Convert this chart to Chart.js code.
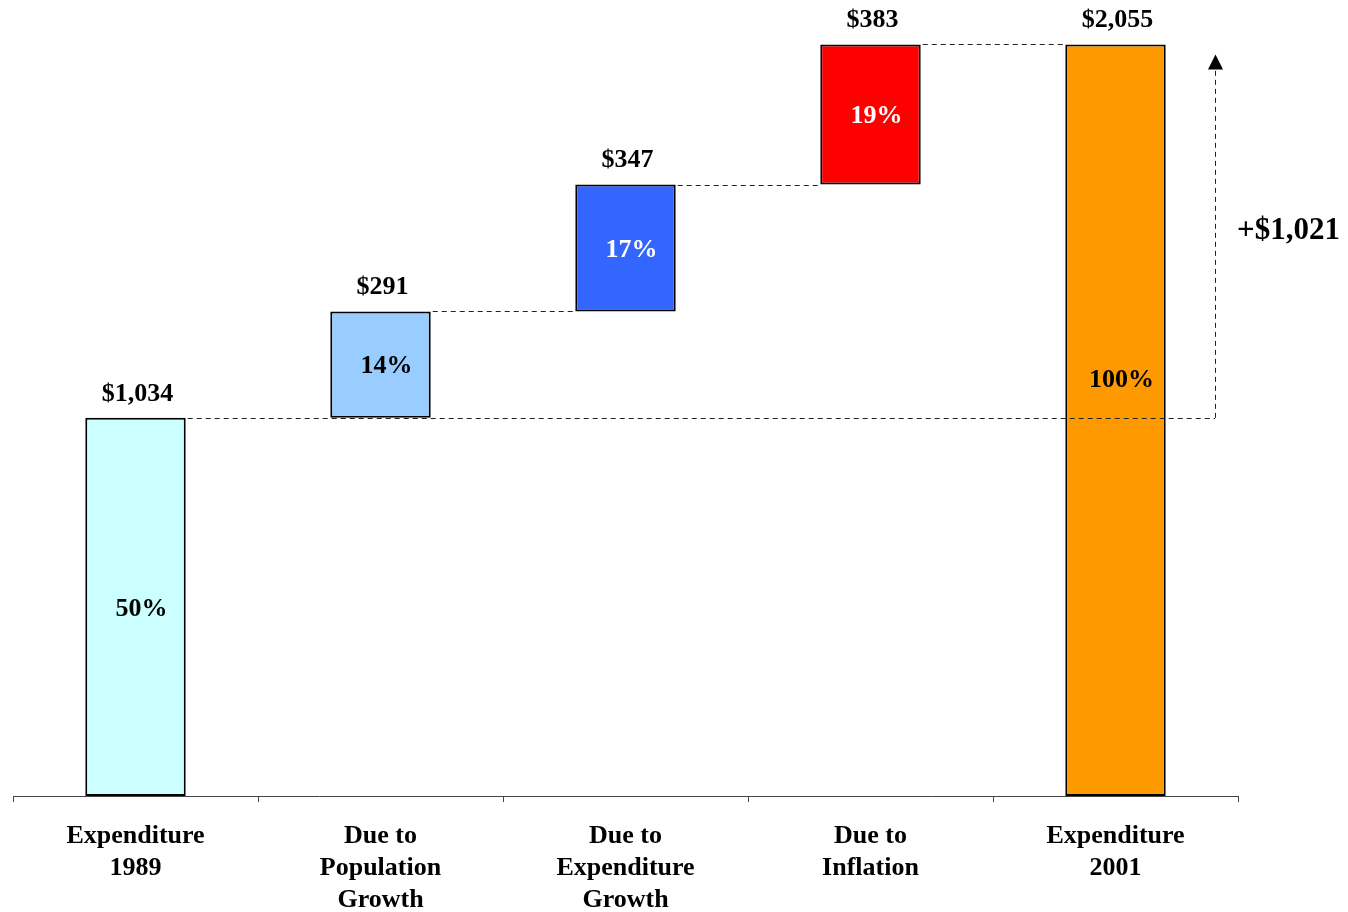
<!DOCTYPE html>
<html>
<head>
<meta charset="utf-8">
<title>Expenditure 1989 - 2001</title>
<script src="https://cdn.jsdelivr.net/npm/chart.js@4/dist/chart.umd.min.js"></script>
<style>
    html, body { margin: 0; padding: 0; background: #fff; }
    .chart-box { width: 1348px; height: 912px; }
</style>
</head>
<body>
<div class="chart-box"><canvas id="waterfall"></canvas></div>
<script>
// Waterfall data
const categories = [
    ['Expenditure', '1989'],
    ['Due to', 'Population', 'Growth'],
    ['Due to', 'Expenditure', 'Growth'],
    ['Due to', 'Inflation'],
    ['Expenditure', '2001']
];
const amounts = [1034, 291, 347, 383, 2055];
const barColors = ['#CCFFFF', '#99CCFF', '#3366FF', '#FF0000', '#FF9900'];
const pctColors = ['#000000', '#000000', '#FFFFFF', '#FFFFFF', '#000000'];

const FONT = '"Liberation Serif", "Times New Roman", serif';
const lastIdx = amounts.length - 1;
const total = amounts[lastIdx];

// first and last bars stand on zero, the steps float on the running sum
const ranges = [];
let running = 0;
amounts.forEach((v, i) => {
    if (i === 0 || i === lastIdx) {
        ranges.push([0, v]);
        running = v;
    } else {
        ranges.push([running, running + v]);
        running += v;
    }
});

const money = v => '$' + v.toLocaleString('en-US');

// dashed connectors, growth arrow and all the text labels
const waterfallExtras = {
    id: 'waterfallExtras',
    afterDatasetsDraw(chart) {
        const ctx = chart.ctx;
        const bars = chart.getDatasetMeta(0).data;
        const y = chart.scales.y;
        const area = chart.chartArea;
        const arrowX = area.right - 23;

        ctx.save();
        ctx.strokeStyle = '#222';
        ctx.lineWidth = 1;
        ctx.setLineDash([5, 4]);

        // connectors between the steps
        for (let i = 0; i < lastIdx; i++) {
            const b = bars[i];
            const yy = Math.round(y.getPixelForValue(ranges[i][1])) + 0.5;
            const x0 = b.x + b.width / 2 + 2;
            const x1 = i === 0 ? arrowX : bars[i + 1].x - bars[i + 1].width / 2;
            ctx.beginPath();
            ctx.moveTo(x0, yy);
            ctx.lineTo(x1, yy);
            ctx.stroke();
        }

        // vertical growth arrow
        const yStart = y.getPixelForValue(amounts[0]);
        const yTip = y.getPixelForValue(total) + 10;
        ctx.beginPath();
        ctx.moveTo(arrowX + 0.5, yStart);
        ctx.lineTo(arrowX + 0.5, yTip + 12);
        ctx.stroke();
        ctx.setLineDash([]);
        ctx.fillStyle = '#000';
        ctx.beginPath();
        ctx.moveTo(arrowX + 0.5, yTip);
        ctx.lineTo(arrowX - 7, yTip + 15);
        ctx.lineTo(arrowX + 8, yTip + 15);
        ctx.closePath();
        ctx.fill();

        ctx.font = 'bold 31px ' + FONT;
        ctx.textAlign = 'left';
        ctx.textBaseline = 'middle';
        ctx.fillText('+' + money(total - amounts[0]), arrowX + 22, y.getPixelForValue((total + amounts[0]) / 2));

        // value above, share inside
        ctx.font = 'bold 26px ' + FONT;
        ctx.textAlign = 'center';
        bars.forEach((b, i) => {
            const top = y.getPixelForValue(ranges[i][1]);
            const bottom = y.getPixelForValue(ranges[i][0]);
            ctx.fillStyle = '#000';
            ctx.fillText(money(amounts[i]), b.x + 2, top - 24);

            const pct = Math.round(amounts[i] / total * 100) + '%';
            let py = (top + bottom) / 2 + 2;
            if (i === lastIdx) py -= 42;
            ctx.fillStyle = pctColors[i];
            ctx.fillText(pct, b.x + 6, py);
        });
        ctx.restore();
    }
};

document.addEventListener('DOMContentLoaded', function () {
    const ctx = document.getElementById('waterfall').getContext('2d');
    new Chart(ctx, {
        type: 'bar',
        data: {
            labels: categories,
            datasets: [{
                data: ranges,
                backgroundColor: barColors,
                borderColor: '#000',
                borderWidth: 2,
                borderSkipped: false,
                categoryPercentage: 1,
                barPercentage: 0.41
            }]
        },
        options: {
            responsive: true,
            maintainAspectRatio: false,
            animation: false,
            layout: {
                padding: { top: 28, left: 13, right: 110, bottom: 0 }
            },
            plugins: {
                legend: { display: false },
                tooltip: { enabled: false }
            },
            scales: {
                x: {
                    offset: true,
                    afterFit(scale) { scale.height = 116; },
                    grid: {
                        display: true,
                        offset: true,
                        drawOnChartArea: false,
                        drawTicks: true,
                        tickLength: 6,
                        color: '#444'
                    },
                    border: { display: true, color: '#444', width: 1 },
                    ticks: {
                        color: '#000',
                        padding: 18,
                        maxRotation: 0,
                        font: { family: FONT, size: 26, weight: 'bold', lineHeight: 1.23 }
                    }
                },
                y: {
                    display: false,
                    min: 0,
                    max: 2100
                }
            }
        },
        plugins: [waterfallExtras]
    });
});
</script>
</body>
</html>
